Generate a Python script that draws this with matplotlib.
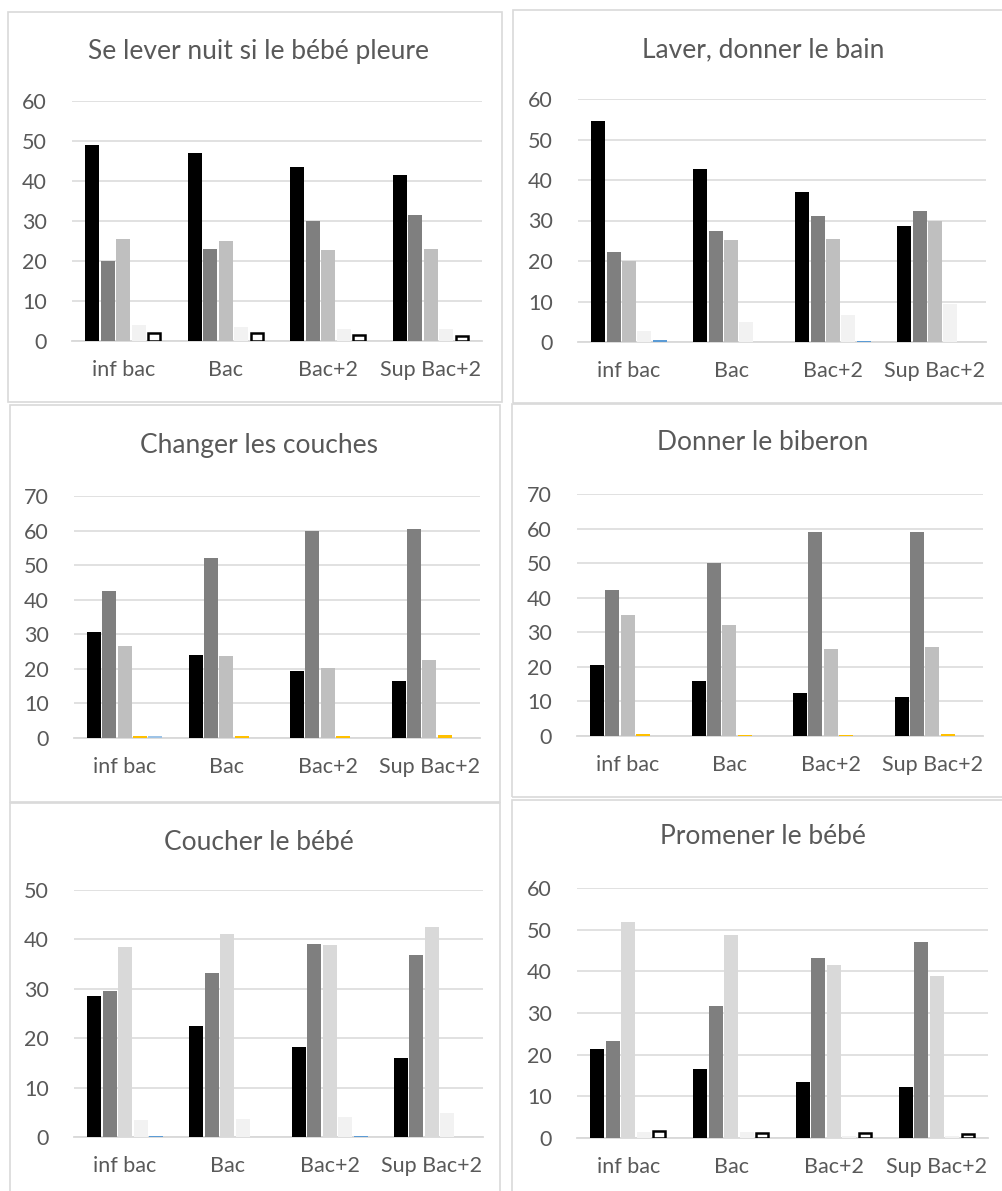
import matplotlib.pyplot as plt
from matplotlib.patches import Rectangle
import numpy as np

plt.rcParams['font.family'] = ['Lato', 'DejaVu Sans']

# Categories (education level)
categories = ['inf bac', 'Bac', 'Bac+2', 'Sup Bac+2']

# One list per series, one value per category
titles = ['Se lever nuit si le bébé pleure', 'Laver, donner le bain',
          'Changer les couches', 'Donner le biberon',
          'Coucher le bébé', 'Promener le bébé']

lever_nuit = [[49.0, 46.9, 43.5, 41.4],
              [20.0, 23.1, 30.0, 31.5],
              [25.5, 25.0, 22.7, 23.1],
              [3.9, 3.4, 2.9, 3.1],
              [2.0, 2.0, 1.5, 1.3]]
laver_bain = [[54.6, 42.7, 37.0, 28.6],
              [22.2, 27.5, 31.0, 32.4],
              [20.1, 25.1, 25.5, 29.8],
              [2.6, 4.9, 6.6, 9.4],
              [0.4, 0.0, 0.15, 0.0]]
changer_couches = [[30.6, 23.9, 19.3, 16.5],
                   [42.4, 52.0, 60.0, 60.5],
                   [26.5, 23.8, 20.3, 22.6],
                   [0.5, 0.5, 0.6, 0.8],
                   [0.5, 0.0, 0.0, 0.0]]
biberon = [[20.6, 15.9, 12.3, 11.2],
           [42.2, 50.0, 58.9, 59.0],
           [34.9, 32.2, 25.3, 25.8],
           [0.7, 0.3, 0.4, 0.6],
           [0.0, 0.0, 0.0, 0.0]]
coucher = [[28.5, 22.5, 18.2, 16.0],
           [29.6, 33.2, 39.0, 36.8],
           [38.4, 41.0, 38.8, 42.5],
           [3.4, 3.6, 4.1, 4.9],
           [0.3, 0.0, 0.2, 0.0]]
promener = [[21.4, 16.6, 13.4, 12.3],
            [23.3, 31.8, 43.1, 47.0],
            [51.8, 48.7, 41.5, 38.9],
            [1.5, 1.4, 0.6, 0.6],
            [1.8, 1.3, 1.1, 0.9]]

panels = [lever_nuit, laver_bain, changer_couches, biberon, coucher, promener]
ymax = [60, 60, 70, 70, 50, 60]

# fill colours per panel
colors = [
    ['black', '#7f7f7f', '#bfbfbf', '#f2f2f2', 'white'],
    ['black', '#7f7f7f', '#bfbfbf', '#f2f2f2', '#5b9bd5'],
    ['black', '#7f7f7f', '#bfbfbf', '#ffc000', '#9dc3e6'],
    ['black', '#7f7f7f', '#bfbfbf', '#ffc000', '#5b9bd5'],
    ['black', '#7f7f7f', '#d9d9d9', '#f2f2f2', '#5b9bd5'],
    ['black', '#7f7f7f', '#d9d9d9', '#f2f2f2', 'white'],
]
outlined = [True, False, False, False, False, True]

W, H = 1003, 1191
fig = plt.figure(figsize=(W / 100, H / 100), dpi=100)

# pixel boxes (left, top, right, bottom) for frames and plot areas
frames = [(8, 12, 502, 402), (513, 10, 1010, 403),
          (10, 405, 500, 802), (512, 404, 1010, 797),
          (10, 803, 500, 1200), (512, 800, 1010, 1200)]
areas = [(72, 101, 482, 341), (578, 99, 986, 342),
         (74, 496, 480, 738), (577, 494, 983, 736),
         (74, 890, 483, 1137), (577, 888, 988, 1138)]
title_pos = [(258, 52), (763, 50), (259, 445), (763, 443), (259, 842), (763, 837)]

for (l, t, r, b) in frames:
    fig.patches.append(Rectangle((l / W, 1 - b / H), (r - l) / W, (b - t) / H,
                                 transform=fig.transFigure, fill=False,
                                 edgecolor='#d9d9d9', linewidth=1.2))

slot = 0.151
bw = 0.137
x = np.arange(len(categories))
for k in range(6):
    l, t, r, b = areas[k]
    ax = fig.add_axes([l / W, 1 - b / H, (r - l) / W, (b - t) / H])
    for i, vals in enumerate(panels[k]):
        off = (i - 2) * slot
        if i == 4 and outlined[k]:
            ax.bar(x + off, vals, bw * 0.85, color='white', edgecolor='black',
                   linewidth=1.8, zorder=3)
        else:
            ax.bar(x + off, vals, bw, color=colors[k][i], zorder=3)
    ax.set_xlim(-0.5, 3.5)
    ax.set_ylim(0, ymax[k])
    ax.set_yticks(range(0, ymax[k] + 1, 10))
    ax.yaxis.grid(True, color='#d9d9d9', linewidth=1.1, zorder=0)
    ax.set_axisbelow(True)
    for s in ['top', 'right', 'left']:
        ax.spines[s].set_visible(False)
    ax.spines['bottom'].set_color('#d9d9d9')
    ax.spines['bottom'].set_linewidth(1.3)
    ax.set_xticks(x)
    ax.set_xticklabels(categories)
    ax.tick_params(length=0, labelsize=15.5, colors='#595959', pad=18)
    ax.tick_params(axis='x', pad=14)
    tx, ty = title_pos[k]
    fig.text(tx / W, 1 - ty / H, titles[k], fontsize=19, color='#595959',
             ha='center', va='center')

fig.savefig('out.png', dpi=100)
